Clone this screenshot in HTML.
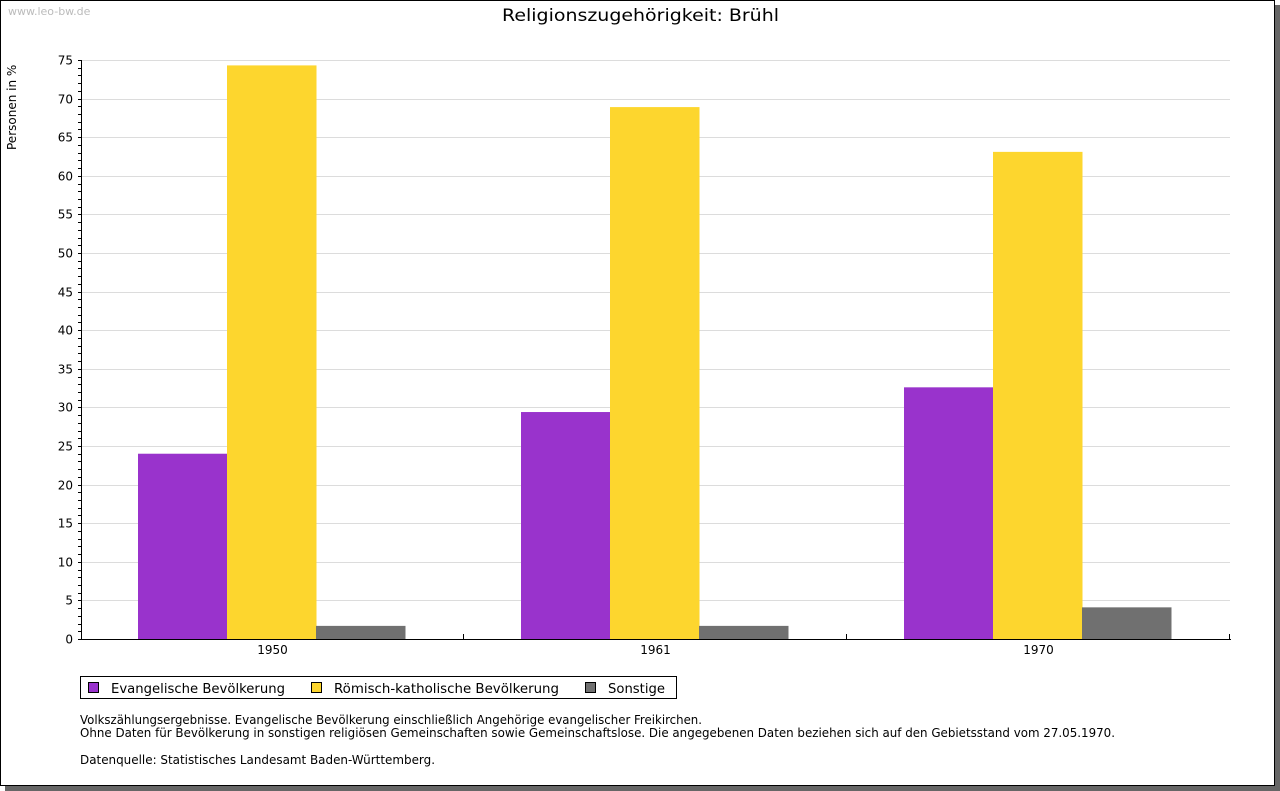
<!DOCTYPE html>
<html><head><meta charset="utf-8"><style>
html,body{margin:0;padding:0;background:#fff;}
svg{display:block;font-family:"DejaVu Sans","Liberation Sans",sans-serif;}
</style></head><body>
<svg id="chart" width="1280" height="791" viewBox="0 0 1280 791">
<rect x="5" y="5" width="1275" height="786" fill="#666"/>
<rect x="0.5" y="0.5" width="1274" height="785" fill="#fff" stroke="#000"/>
<text x="8" y="15" font-size="11" fill="#bbb">www.leo-bw.de</text>
<text x="502" y="21" font-size="17" textLength="277" lengthAdjust="spacingAndGlyphs" fill="#000">Religionszugehörigkeit: Brühl</text>
<text transform="translate(16,150) rotate(-90)" font-size="12" fill="#000">Personen in %</text>
<g id="grid"></g><g id="bars"></g><g id="axes"></g>
<g>
<rect x="80.5" y="676.5" width="596" height="22" fill="#fff" stroke="#000"/>
<rect x="88.5" y="682.5" width="10" height="10" fill="#9933CC" stroke="#000"/>
<text x="111" y="693" font-size="13" textLength="174" lengthAdjust="spacingAndGlyphs">Evangelische Bevölkerung</text>
<rect x="311.5" y="682.5" width="10" height="10" fill="#FDD62E" stroke="#000"/>
<text x="334" y="693" font-size="13" textLength="225" lengthAdjust="spacingAndGlyphs">Römisch-katholische Bevölkerung</text>
<rect x="585.5" y="682.5" width="10" height="10" fill="#707070" stroke="#000"/>
<text x="608" y="693" font-size="13" textLength="57" lengthAdjust="spacingAndGlyphs">Sonstige</text>
</g>
<text x="80" y="724" font-size="12" textLength="622" lengthAdjust="spacingAndGlyphs">Volkszählungsergebnisse. Evangelische Bevölkerung einschließlich Angehörige evangelischer Freikirchen.</text>
<text x="80" y="737" font-size="12" textLength="1035" lengthAdjust="spacingAndGlyphs">Ohne Daten für Bevölkerung in sonstigen religiösen Gemeinschaften sowie Gemeinschaftslose. Die angegebenen Daten beziehen sich auf den Gebietsstand vom 27.05.1970.</text>
<text x="80" y="764" font-size="12" textLength="355" lengthAdjust="spacingAndGlyphs">Datenquelle: Statistisches Landesamt Baden-Württemberg.</text>
</svg>
<script>
const categories = ["1950", "1961", "1970"];
const evangelisch = [24.0, 29.4, 32.6];
const katholisch = [74.3, 68.9, 63.1];
const sonstige = [1.7, 1.7, 4.1];
const yTicks = [0, 5, 10, 15, 20, 25, 30, 35, 40, 45, 50, 55, 60, 65, 70, 75];

const NS = "http://www.w3.org/2000/svg";
const X0 = 81, X1 = 1230, Y0 = 639, Y1 = 60, YMAX = 75;
const yScale = v => Y0 - (v / YMAX) * (Y0 - Y1);
const bandW = (X1 - X0) / categories.length;
const barW = 89;
function mk(tag, attrs, parent) {
  const el = document.createElementNS(NS, tag);
  for (const k in attrs) el.setAttribute(k, attrs[k]);
  parent.appendChild(el);
  return el;
}
const grid = document.getElementById('grid'), bars = document.getElementById('bars'), axes = document.getElementById('axes');
yTicks.forEach(t => {
  const y = Math.round(yScale(t)) + 0.5;
  if (t > 0) {
    const g = mk('line', {x1: X0, x2: X1, y1: y, y2: y, stroke: '#dcdcdc'}, grid);
    
    
  }
  const lb = mk('text', {x: 73, y: y + 4, 'font-size': 12, 'text-anchor': 'end'}, axes);
  lb.textContent = t;
  
  
});
for (let v = 0; v <= YMAX; v++) {
  const y = Math.round(yScale(v)) + 0.5;
  const tk = mk('line', {x1: X0 - 3, x2: X0, y1: y, y2: y, stroke: '#000'}, axes);
  
  
}
const series = [[evangelisch, '#9933CC', 'evangelisch'], [katholisch, '#FDD62E', 'katholisch'], [sonstige, '#707070', 'sonstige']];
categories.forEach((c, i) => {
  const cx = X0 + bandW * (i + 0.5);
  const start = Math.round(cx - barW * 1.5) - 1;
  series.forEach((s, j) => {
    const y = yScale(s[0][i]);
    const r = mk('rect', {x: start + j * barW, y: y, width: barW + 0.5, height: Y0 - y, fill: s[1]}, bars);
    
    
  });
  const lb = mk('text', {x: cx, y: Y0 + 15, 'font-size': 12, 'text-anchor': 'middle'}, axes);
  lb.textContent = c;
  
  
});
for (let i = 1; i <= categories.length; i++) {
  const x = Math.round(X0 + bandW * i) - 0.5;
  const tk = mk('line', {x1: x, x2: x, y1: Y0 - 5, y2: Y0, stroke: '#000'}, axes);
  
  
}
const ya = mk('line', {x1: X0 + 0.5, x2: X0 + 0.5, y1: Y1, y2: Y0 + 1, stroke: '#000'}, axes);


const xa = mk('line', {x1: X0, x2: X1 + 1, y1: Y0 + 0.5, y2: Y0 + 0.5, stroke: '#000'}, axes);


</script>
</body></html>
